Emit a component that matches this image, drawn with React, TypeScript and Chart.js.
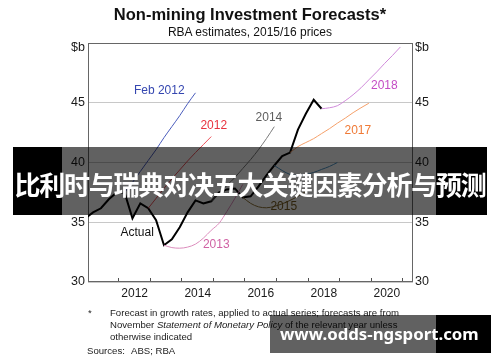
import React, { useEffect, useRef } from "react";
import { Chart, registerables } from "chart.js";

Chart.register(...registerables);

// ---------- data ----------
const X_MIN = 2011.02;
const X_MAX = 2021.33;
const yearTicks = [2012, 2013, 2014, 2015, 2016, 2017, 2018, 2019, 2020, 2021];
const valueTicks = [30, 35, 40, 45, 50];

const actualStart = 2010.93;
const actualValues = [
  35.33, 35.83, 36.17, 36.92, 37.5, 37.5, 35.33, 36.58, 36.17, 35.17, 33.08,
  33.58, 34.58, 35.83, 36.83, 36.58, 36.75, 37.5, 37.75, 37.83, 37.08, 37.17,
  38.0, 38.92, 39.75, 40.54, 40.83, 42.75, 44.08, 45.25, 44.5,
];

const feb2012Start = 2012.18;
const feb2012Values = [37.5, 38.33, 39.25, 40.17, 41.08, 42.08, 43.0, 43.92, 44.92, 45.83];

const f2012Start = 2012.93;
const f2012Values = [36.17, 37.0, 37.83, 38.63, 39.38, 40.13, 40.83, 41.5, 42.17];

const f2013Start = 2013.43;
const f2013Values = [33.08, 32.88, 32.83, 32.92, 33.17, 33.67, 34.33, 34.92, 35.92, 37.0, 38.17];

const f2014Start = 2014.93;
const f2014Values = [36.75, 37.42, 38.08, 38.75, 39.5, 40.25, 41.08, 42.0, 43.0];

const f2015Start = 2015.93;
const f2015Values = [37.08, 36.58, 36.29, 36.21, 36.33, 36.54, 36.83, 37.17, 37.58];

const f2016Start = 2016.93;
const f2016Values = [39.75, 39.33, 39.0, 38.92, 39.0, 39.17, 39.42, 39.67, 40.0];

const f2017Start = 2017.43;
const f2017Values = [40.83, 41.33, 41.67, 42.0, 42.42, 42.83, 43.29, 43.71, 44.17, 44.58, 44.96];

const f2018Start = 2018.43;
const f2018Values = [44.5, 44.58, 44.75, 45.17, 45.67, 46.25, 46.92, 47.58, 48.29, 48.96, 49.67];

const seriesLabels = ["Feb 2012", "2012", "2014", "2018", "2017", "Actual", "2013", "2015"];
const labelYears = [2013.28, 2015.01, 2016.76, 2020.42, 2019.58, 2012.58, 2015.09, 2017.23];
const labelValues = [46.0, 43.11, 43.71, 46.46, 42.63, 34.1, 33.11, 36.27];
const labelColors = ["#3547b0", "#e8323e", "#5e5e5e", "#c44cc4", "#f07a36", "#111111", "#d062a4", "#7a5e22"];

const FONT = "'Liberation Sans', Arial, Helvetica, sans-serif";

const toPoints = (start: number, values: number[]) =>
  values.map((v, i) => ({ x: start + i * 0.25, y: v }));

const forecast = (label: string, start: number, values: number[], color: string) => ({
  label,
  data: toPoints(start, values),
  borderColor: color,
  backgroundColor: color,
  borderWidth: 1,
  pointRadius: 0,
  cubicInterpolationMode: "monotone" as const,
  fill: false,
});

const framePlugin = {
  id: "frame",
  beforeDatasetsDraw(chart: any) {
    const { ctx, chartArea } = chart;
    ctx.save();
    ctx.strokeStyle = "#666666";
    ctx.lineWidth = 1;
    ctx.strokeRect(
      Math.round(chartArea.left) + 0.5,
      Math.round(chartArea.top) + 0.5,
      Math.round(chartArea.right - chartArea.left) - 1,
      Math.round(chartArea.bottom - chartArea.top) - 1
    );
    ctx.restore();
  },
};

const labelsPlugin = {
  id: "seriesLabels",
  afterDatasetsDraw(chart: any) {
    const { ctx, chartArea } = chart;
    const xs = chart.scales.x;
    const ys = chart.scales.y;
    ctx.save();
    ctx.font = `12px ${FONT}`;
    ctx.textAlign = "center";
    ctx.textBaseline = "middle";
    seriesLabels.forEach((t, i) => {
      ctx.fillStyle = labelColors[i];
      ctx.fillText(t, xs.getPixelForValue(labelYears[i]), ys.getPixelForValue(labelValues[i]));
    });
    // unit labels at top of both axes
    ctx.fillStyle = "#1a1a1a";
    ctx.font = `12.5px ${FONT}`;
    ctx.textAlign = "right";
    ctx.fillText("$b", chartArea.left - 3, chartArea.top + 5);
    ctx.textAlign = "left";
    ctx.fillText("$b", chartArea.right + 2, chartArea.top + 5);
    ctx.restore();
  },
};

export default function App() {
  const canvasRef = useRef<HTMLCanvasElement | null>(null);

  useEffect(() => {
    if (!canvasRef.current) return;
    const yTickCb = (v: any) => (Number(v) === 50 ? "" : String(v));
    const chart = new Chart(canvasRef.current, {
      type: "line",
      data: {
        datasets: [
          forecast("Feb 2012", feb2012Start, feb2012Values, "#4a5cbc"),
          forecast("2012", f2012Start, f2012Values, "#ec5058"),
          forecast("2013", f2013Start, f2013Values, "#dc8cbc"),
          forecast("2014", f2014Start, f2014Values, "#7a7a7a"),
          forecast("2015", f2015Start, f2015Values, "#8e7236"),
          forecast("2016", f2016Start, f2016Values, "#4d93c4"),
          forecast("2017", f2017Start, f2017Values, "#f5a06a"),
          forecast("2018", f2018Start, f2018Values, "#d08ada"),
          {
            label: "Actual",
            data: toPoints(actualStart, actualValues),
            borderColor: "#000000",
            backgroundColor: "#000000",
            borderWidth: 2,
            pointRadius: 0,
            tension: 0,
            fill: false,
          },
        ],
      },
      options: {
        responsive: false,
        animation: false,
        devicePixelRatio: 1,
        layout: { padding: { top: 43, left: 0, right: 0, bottom: 0 } },
        plugins: {
          legend: { display: false },
          title: { display: false },
          tooltip: { enabled: false },
        },
        font: { family: FONT } as any,
        scales: {
          x: {
            type: "linear",
            min: X_MIN,
            max: X_MAX,
            afterBuildTicks: (s: any) => {
              s.ticks = yearTicks.map((v) => ({ value: v }));
            },
            afterFit: (s: any) => {
              s.height = 80;
            },
            ticks: {
              callback: (v: any) => (Number(v) % 2 === 0 ? String(v) : ""),
              labelOffset: 15.8,
              padding: 8.7,
              maxRotation: 0,
              minRotation: 0,
              autoSkip: false,
              color: "#1a1a1a",
              font: { family: FONT, size: 12 },
            },
            grid: {
              drawOnChartArea: false,
              drawTicks: true,
              tickLength: -4,
              color: "#505050",
              lineWidth: 1,
            },
            border: { display: false },
          },
          y: {
            type: "linear",
            position: "left",
            min: 30,
            max: 50,
            afterBuildTicks: (s: any) => {
              s.ticks = valueTicks.map((v) => ({ value: v }));
            },
            afterFit: (s: any) => {
              s.width = 88;
            },
            ticks: {
              callback: yTickCb,
              padding: 3,
              color: "#1a1a1a",
              font: { family: FONT, size: 12.5 },
            },
            grid: { color: "#c8c8c8", lineWidth: 1, drawTicks: false },
            border: { display: false },
          },
          y2: {
            type: "linear",
            position: "right",
            min: 30,
            max: 50,
            afterBuildTicks: (s: any) => {
              s.ticks = valueTicks.map((v) => ({ value: v }));
            },
            afterFit: (s: any) => {
              s.width = 87;
            },
            ticks: {
              callback: yTickCb,
              padding: 2,
              color: "#1a1a1a",
              font: { family: FONT, size: 12.5 },
            },
            grid: { display: false, drawTicks: false },
            border: { display: false },
          },
        },
      },
      plugins: [framePlugin, labelsPlugin],
    } as any);
    return () => chart.destroy();
  }, []);

  const abs = (extra: React.CSSProperties): React.CSSProperties => ({
    position: "absolute",
    whiteSpace: "nowrap",
    ...extra,
  });

  return (
    <div
      style={{
        position: "absolute",
        left: 0,
        top: 0,
        width: 500,
        height: 362,
        background: "#ffffff",
        overflow: "hidden",
        fontFamily: FONT,
        color: "#111",
      }}
    >
      <canvas ref={canvasRef} width={500} height={362} style={{ position: "absolute", left: 0, top: 0 }} />

      <div style={abs({ left: 0, top: 4.3, width: 500, textAlign: "center", fontSize: 16.5, lineHeight: "20px", fontWeight: 700 })}>
        Non-mining Investment Forecasts*
      </div>
      <div style={abs({ left: 0, top: 24.8, width: 500, textAlign: "center", fontSize: 12, lineHeight: "14px" })}>
        RBA estimates, 2015/16 prices
      </div>

      <div style={abs({ left: 88, top: 306.7, fontSize: 9.6, lineHeight: "12px", color: "#222" })}>*</div>
      <div style={abs({ left: 110, top: 306.7, fontSize: 9.6, lineHeight: "12px", color: "#222" })}>
        Forecast in growth rates, applied to actual series; forecasts are from
        <br />
        November <i>Statement of Monetary Policy</i> of the relevant year unless
        <br />
        otherwise indicated
      </div>
      <div style={abs({ left: 87, top: 344.7, fontSize: 9.6, lineHeight: "12px", color: "#222" })}>Sources:</div>
      <div style={abs({ left: 131, top: 344.7, fontSize: 9.6, lineHeight: "12px", color: "#222" })}>ABS; RBA</div>

      {/* headline banner */}
      <div style={abs({ left: 13, top: 147, width: 49, height: 68, background: "#000" })} />
      <div style={abs({ left: 62, top: 147, width: 374, height: 68, background: "rgba(0,0,0,0.62)" })} />
      <div style={abs({ left: 436, top: 147, width: 51, height: 68, background: "#000" })} />
      <div
        style={abs({
          left: 13,
          top: 147,
          width: 474,
          height: 68,
          lineHeight: "68px",
          textAlign: "center",
          color: "#fff",
          fontFamily: "'Noto Sans CJK SC', sans-serif",
          fontWeight: 700,
          fontSize: 26,
          letterSpacing: "-1.2px",
          paddingTop: 3,
        })}
      >
        比利时与瑞典对决五大关键因素分析与预测
      </div>

      {/* watermark */}
      <div style={abs({ left: 270, top: 315, width: 166, height: 38, background: "rgba(0,0,0,0.62)" })} />
      <div style={abs({ left: 436, top: 315, width: 55, height: 38, background: "#000" })} />
      <div
        style={abs({
          left: 280,
          top: 315,
          height: 38,
          lineHeight: "38px",
          color: "#fff",
          fontFamily: "'Noto Sans', sans-serif",
          fontWeight: 700,
          fontSize: 16.8,
        })}
      >
        www.odds-ngsport.com
      </div>
    </div>
  );
}
